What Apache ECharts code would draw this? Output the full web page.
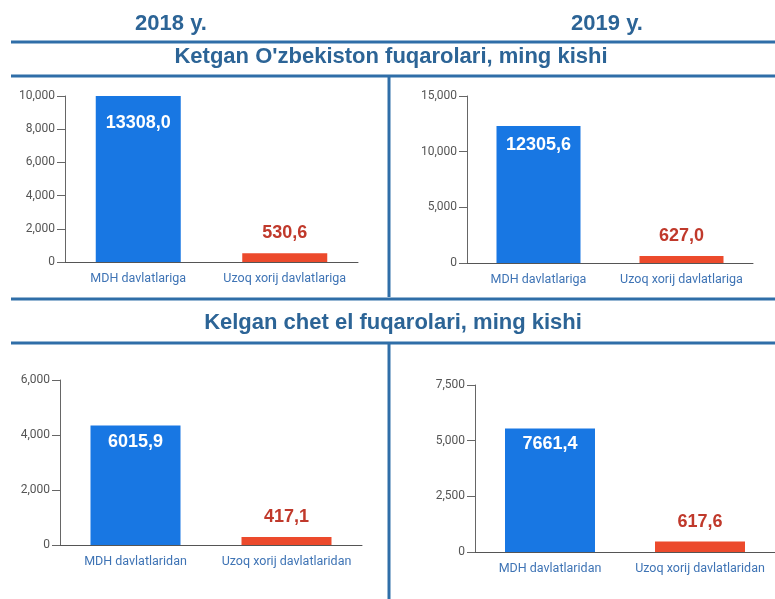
<!DOCTYPE html>
<html>
<head>
<meta charset="utf-8">
<script src="https://cdn.jsdelivr.net/npm/echarts@6/dist/echarts.min.js"></script>
<style>
  html, body { margin: 0; padding: 0; background: #fff; }
  #chart { width: 775px; height: 599px; }
</style>
</head>
<body>
<div id="chart"></div>
<script>
  // categories
  const catKetgan = ['MDH davlatlariga', 'Uzoq xorij davlatlariga'];
  const catKelgan = ['MDH davlatlaridan', 'Uzoq xorij davlatlaridan'];

  // bar heights as drawn (ming kishi)
  const ketgan2018 = [13308.0, 530.6];
  const ketgan2019 = [12305.6, 627.0];
  const kelgan2018 = [4350, 290];
  const kelgan2019 = [5550, 470];

  // value labels printed on the bars
  const ketgan2018Text = ['13308,0', '530,6'];
  const ketgan2019Text = ['12305,6', '627,0'];
  const kelgan2018Text = ['6015,9', '417,1'];
  const kelgan2019Text = ['7661,4', '617,6'];

  // y axis ranges
  const yMax = [10000, 15000, 6000, 7500];
  const yStep = [2000, 5000, 2000, 2500];

  const chart = echarts.init(document.getElementById('chart'));

  const blue = '#1877e3';
  const red = '#ec4a2c';
  const frame = '#2f6ea8';
  const headColor = '#2c6496';

  const grids = [
    { left: 65, top: 96, width: 293, height: 166 },
    { left: 467, top: 96, width: 286, height: 167 },
    { left: 60, top: 380, width: 302, height: 165 },
    { left: 475, top: 385, width: 300, height: 167 }
  ];
  const cats = [catKetgan, catKetgan, catKelgan, catKelgan];
  const values = [ketgan2018, ketgan2019, kelgan2018, kelgan2019];
  const texts = [ketgan2018Text, ketgan2019Text, kelgan2018Text, kelgan2019Text];
  const barW = [85, 84, 90, 90];
  const topDist = [18, 10, 8, 7];

  function makeSeries(i) {
    return {
      type: 'bar',
      xAxisIndex: i,
      yAxisIndex: i,
      barWidth: barW[i],
      clip: true,
      data: values[i].map(function (v, j) {
        return {
          value: v,
          itemStyle: { color: j === 0 ? blue : red },
          label: j === 0 ? {
            show: true,
            position: 'insideTop',
            distance: topDist[i],
            color: '#fff',
            fontSize: 18,
            fontWeight: 'bold',
            fontFamily: 'Liberation Sans',
            formatter: texts[i][j]
          } : {
            show: true,
            position: 'top',
            distance: 11,
            color: '#c0392b',
            fontSize: 18,
            fontWeight: 'bold',
            fontFamily: 'Liberation Sans',
            formatter: texts[i][j]
          }
        };
      })
    };
  }

  function hline(y) {
    return { type: 'line', shape: { x1: 11, y1: y, x2: 775, y2: y }, style: { stroke: frame, lineWidth: 3 } };
  }
  function vline(x, y1, y2) {
    return { type: 'line', shape: { x1: x, y1: y1, x2: x, y2: y2 }, style: { stroke: frame, lineWidth: 3 } };
  }
  function head(x, y, t, size) {
    return {
      type: 'text', x: x, y: y,
      style: {
        text: t, fill: headColor, fontSize: size, fontWeight: 'bold',
        fontFamily: 'Liberation Sans', textAlign: 'center', textVerticalAlign: 'middle'
      }
    };
  }

  const option = {
    animation: false,
    backgroundColor: '#fff',
    grid: grids,
    xAxis: grids.map(function (g, i) {
      return {
        type: 'category',
        gridIndex: i,
        data: cats[i],
        axisLine: { lineStyle: { color: '#555', width: 1 } },
        axisTick: { alignWithLabel: true, length: 7, lineStyle: { color: '#444' } },
        axisLabel: { interval: 0, color: '#3f74b5', fontSize: 12.5, fontFamily: 'Roboto', margin: 10 }
      };
    }),
    yAxis: grids.map(function (g, i) {
      return {
        type: 'value',
        gridIndex: i,
        min: 0,
        max: yMax[i],
        interval: yStep[i],
        splitLine: { show: false },
        axisLine: { show: true, lineStyle: { color: '#666' } },
        axisTick: { show: true, length: 8, lineStyle: { color: '#666' } },
        axisLabel: {
          color: '#555', fontSize: 12, fontFamily: 'Roboto', margin: 10,
          formatter: function (v) { return v.toLocaleString('en-US'); }
        }
      };
    }),
    series: [0, 1, 2, 3].map(makeSeries),
    graphic: [
      head(171, 24, '2018 y.', 22),
      head(607, 24, '2019 y.', 22),
      head(391, 57, "Ketgan O'zbekiston fuqarolari, ming kishi", 22),
      head(393, 323, 'Kelgan chet el fuqarolari, ming kishi', 22),
      hline(42),
      hline(76),
      vline(389, 77, 297),
      hline(299),
      hline(343),
      vline(389, 344, 599)
    ]
  };

  chart.setOption(option);
</script>
</body>
</html>
